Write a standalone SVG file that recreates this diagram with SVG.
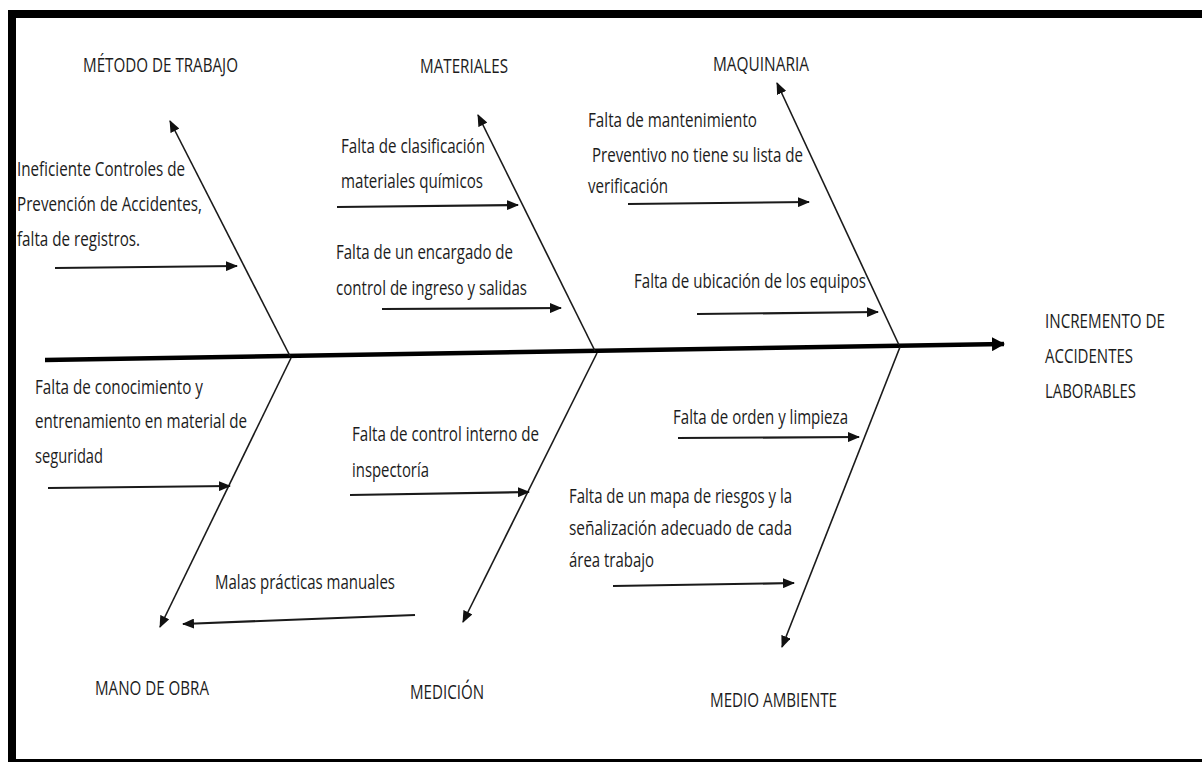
<svg xmlns="http://www.w3.org/2000/svg" width="1202" height="762" viewBox="0 0 1202 762">
<style>
text{font-family:"Open Sans","Noto Sans","Liberation Sans",sans-serif;font-size:20.5px;fill:#1c1c1c}
.bone{stroke:#1a1a1a;stroke-width:1.6;fill:none}
.sub{stroke:#1a1a1a;stroke-width:2.2;fill:none}
.spine{stroke:#000;stroke-width:4.5;fill:none}
</style>
<defs>
<marker id="ah" markerUnits="userSpaceOnUse" markerWidth="12" markerHeight="10" refX="11" refY="5" orient="auto"><path d="M0,0 L12,5 L0,10 z" fill="#111"/></marker>
<marker id="ahs" markerUnits="userSpaceOnUse" markerWidth="13" markerHeight="14" refX="12" refY="7" orient="auto"><path d="M0,0 L13,7 L0,14 z" fill="#000"/></marker>
</defs>
<rect width="1202" height="762" fill="#fff"/>
<g id="frame" fill="#000">
<rect x="8" y="10" width="1194" height="8"/>
<rect x="8" y="10" width="8" height="752"/>
<rect x="8" y="759" width="1194" height="3"/>
</g>
<g id="connectors">
<line class="spine" x1="45" y1="360" x2="1004" y2="344" marker-end="url(#ahs)"/>
<line class="bone" x1="290" y1="356" x2="170" y2="121" marker-end="url(#ah)"/>
<line class="bone" x1="595" y1="351" x2="478" y2="115" marker-end="url(#ah)"/>
<line class="bone" x1="899" y1="345" x2="777" y2="83" marker-end="url(#ah)"/>
<line class="bone" x1="291" y1="358" x2="160" y2="627" marker-end="url(#ah)"/>
<line class="bone" x1="597" y1="353" x2="463" y2="622" marker-end="url(#ah)"/>
<line class="bone" x1="900" y1="347" x2="782" y2="647" marker-end="url(#ah)"/>
<line class="sub" x1="55" y1="268" x2="237" y2="266" marker-end="url(#ah)"/>
<line class="sub" x1="337" y1="207" x2="518" y2="205" marker-end="url(#ah)"/>
<line class="sub" x1="382" y1="309" x2="561" y2="308" marker-end="url(#ah)"/>
<line class="sub" x1="628" y1="204" x2="809" y2="202" marker-end="url(#ah)"/>
<line class="sub" x1="697" y1="314" x2="878" y2="312" marker-end="url(#ah)"/>
<line class="sub" x1="48" y1="488" x2="230" y2="486" marker-end="url(#ah)"/>
<line class="sub" x1="415" y1="615" x2="183" y2="624" marker-end="url(#ah)"/>
<line class="sub" x1="350" y1="495" x2="529" y2="492" marker-end="url(#ah)"/>
<line class="sub" x1="678" y1="438" x2="859" y2="437" marker-end="url(#ah)"/>
<line class="sub" x1="613" y1="586" x2="794" y2="583" marker-end="url(#ah)"/>
</g>
<g id="metodo-de-trabajo"><text x="83" y="72" textLength="155" lengthAdjust="spacingAndGlyphs">MÉTODO DE TRABAJO</text></g>
<g id="materiales"><text x="420" y="73" textLength="88" lengthAdjust="spacingAndGlyphs">MATERIALES</text></g>
<g id="maquinaria"><text x="713" y="71" textLength="96" lengthAdjust="spacingAndGlyphs">MAQUINARIA</text></g>
<g id="mano-de-obra"><text x="95" y="695" textLength="114" lengthAdjust="spacingAndGlyphs">MANO DE OBRA</text></g>
<g id="medicion"><text x="410" y="699" textLength="74" lengthAdjust="spacingAndGlyphs">MEDICIÓN</text></g>
<g id="medio-ambiente"><text x="710" y="707" textLength="127" lengthAdjust="spacingAndGlyphs">MEDIO AMBIENTE</text></g>
<g id="efecto">
<text x="1045" y="328" textLength="120" lengthAdjust="spacingAndGlyphs">INCREMENTO DE</text>
<text x="1045" y="363" textLength="88" lengthAdjust="spacingAndGlyphs">ACCIDENTES</text>
<text x="1045" y="398" textLength="91" lengthAdjust="spacingAndGlyphs">LABORABLES</text>
</g>
<g id="causa-controles">
<text x="17" y="176" textLength="168" lengthAdjust="spacingAndGlyphs">Ineficiente Controles de</text>
<text x="17" y="211" textLength="185" lengthAdjust="spacingAndGlyphs">Prevención de Accidentes,</text>
<text x="17" y="246" textLength="123" lengthAdjust="spacingAndGlyphs">falta de registros.</text>
</g>
<g id="causa-clasificacion">
<text x="341" y="153" textLength="144" lengthAdjust="spacingAndGlyphs">Falta de clasificación</text>
<text x="341" y="188" textLength="142" lengthAdjust="spacingAndGlyphs">materiales químicos</text>
</g>
<g id="causa-encargado">
<text x="336" y="259" textLength="177" lengthAdjust="spacingAndGlyphs">Falta de un encargado de</text>
<text x="336" y="295" textLength="191" lengthAdjust="spacingAndGlyphs">control de ingreso y salidas</text>
</g>
<g id="causa-mantenimiento">
<text x="588" y="127" textLength="169" lengthAdjust="spacingAndGlyphs">Falta de mantenimiento</text>
<text x="592" y="162" textLength="211" lengthAdjust="spacingAndGlyphs">Preventivo no tiene su lista de</text>
<text x="588" y="193" textLength="80" lengthAdjust="spacingAndGlyphs">verificación</text>
</g>
<g id="causa-ubicacion">
<text x="634" y="288" textLength="232" lengthAdjust="spacingAndGlyphs">Falta de ubicación de los equipos</text>
</g>
<g id="causa-conocimiento">
<text x="35" y="394" textLength="168" lengthAdjust="spacingAndGlyphs">Falta de conocimiento y</text>
<text x="35" y="428" textLength="212" lengthAdjust="spacingAndGlyphs">entrenamiento en material de</text>
<text x="35" y="463" textLength="68" lengthAdjust="spacingAndGlyphs">seguridad</text>
</g>
<g id="causa-malas-practicas">
<text x="215" y="589" textLength="180" lengthAdjust="spacingAndGlyphs">Malas prácticas manuales</text>
</g>
<g id="causa-control-interno">
<text x="352" y="441" textLength="187" lengthAdjust="spacingAndGlyphs">Falta de control interno de</text>
<text x="352" y="477" textLength="77" lengthAdjust="spacingAndGlyphs">inspectoría</text>
</g>
<g id="causa-orden">
<text x="673" y="424" textLength="175" lengthAdjust="spacingAndGlyphs">Falta de orden y limpieza</text>
</g>
<g id="causa-mapa-riesgos">
<text x="569" y="503" textLength="223" lengthAdjust="spacingAndGlyphs">Falta de un mapa de riesgos y la</text>
<text x="569" y="535" textLength="223" lengthAdjust="spacingAndGlyphs">señalización adecuado de cada</text>
<text x="569" y="567" textLength="85" lengthAdjust="spacingAndGlyphs">área trabajo</text>
</g>
</svg>
